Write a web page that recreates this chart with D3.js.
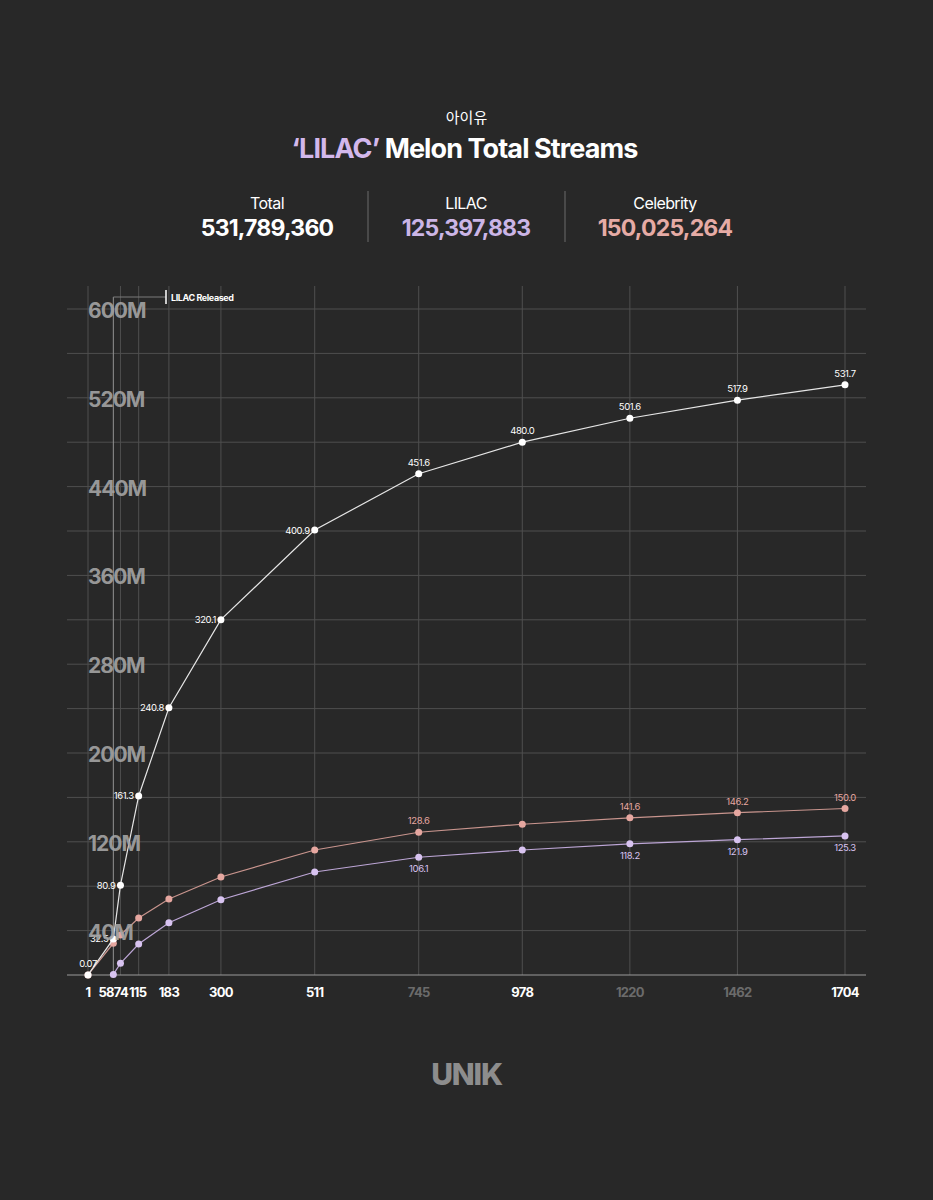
<!DOCTYPE html>
<html>
<head>
<meta charset="utf-8">
<script src="https://cdn.jsdelivr.net/npm/d3@7"></script>
<style>
  html, body { margin: 0; padding: 0; background: #282828; }
  svg { display: block; font-family: Inter, "Noto Sans CJK KR", sans-serif; }
</style>
</head>
<body>
<div id="chart"></div>
<script>
// days since Celebrity release (x axis)
const days = [1, 58, 74, 115, 183, 300, 511, 745, 978, 1220, 1462, 1704];
// streams in millions
const totalStreams = [0.07, 32.5, 80.9, 161.3, 240.8, 320.1, 400.9, 451.6, 480.0, 501.6, 517.9, 531.7];
const celebrityStreams = [0.07, 28.6, 36.0, 51.4, 68.5, 88.3, 112.6, 128.6, 135.8, 141.6, 146.2, 150.0];
const lilacStreams = [null, 0.5, 10.5, 27.9, 47.1, 67.8, 92.8, 106.1, 112.6, 118.2, 121.9, 125.3];
const dimTicks = [745, 1220, 1462];
const yTicks = [40, 80, 120, 160, 200, 240, 280, 320, 360, 400, 440, 480, 520, 560, 600];
const yLabels = [40, 120, 200, 280, 360, 440, 520, 600];
const releaseDay = 58;

const stats = [
  { name: "Total", value: "531,789,360", color: "#ffffff" },
  { name: "LILAC", value: "125,397,883", color: "#cbb5e6" },
  { name: "Celebrity", value: "150,025,264", color: "#e6aba5" }
];

const W = 933, H = 1200;
const svg = d3.select("#chart").append("svg").attr("width", W).attr("height", H);
svg.append("rect").attr("width", W).attr("height", H).attr("fill", "#282828");

// header
svg.append("text").attr("x", W / 2).attr("y", 123).attr("text-anchor", "middle")
  .attr("fill", "#fff").attr("font-size", 15).text("아이유");

let title = svg.append("text").attr("x", W / 2 - 2).attr("y", 158).attr("text-anchor", "middle")
  .attr("font-size", 27).attr("font-weight", 700).attr("letter-spacing", -0.9);
title.append("tspan").attr("fill", "#d3b8ec").text("‘LILAC’");
title.append("tspan").attr("fill", "#fff").text(" Melon Total Streams");

const statX = [267, 466, 665];
stats.forEach((s, i) => {
  svg.append("text").attr("x", statX[i]).attr("y", 209).attr("text-anchor", "middle")
    .attr("fill", "#fff").attr("font-size", 16).attr("letter-spacing", -0.6).text(s.name);
  svg.append("text").attr("x", statX[i]).attr("y", 236).attr("text-anchor", "middle")
    .attr("fill", s.color).attr("font-size", 23).attr("font-weight", 700)
    .attr("letter-spacing", -0.8).text(s.value);
});
[368, 565].forEach(x => {
  svg.append("line").attr("x1", x).attr("x2", x).attr("y1", 191).attr("y2", 242)
    .attr("stroke", "#6a6a6a").attr("stroke-width", 1);
});

// scales
const x = d3.scaleLinear().domain([1, 1704]).range([88, 845]);
const y = d3.scaleLinear().domain([0, 600]).range([975, 309]);
const left = 67, right = 866, gridTop = 286;

const grid = svg.append("g");
grid.selectAll(".hg").data(yTicks).enter().append("line")
  .attr("x1", left).attr("x2", right)
  .attr("y1", d => y(d)).attr("y2", d => y(d))
  .attr("stroke", "#4f4f4f").attr("stroke-width", 1);
grid.selectAll(".vg").data(days.filter(d => d !== releaseDay)).enter().append("line")
  .attr("x1", d => x(d)).attr("x2", d => x(d))
  .attr("y1", gridTop).attr("y2", 975)
  .attr("stroke", "#4f4f4f").attr("stroke-width", 1);

// release marker
grid.append("line").attr("x1", x(releaseDay)).attr("x2", x(releaseDay))
  .attr("y1", 297).attr("y2", 975).attr("stroke", "#939393").attr("stroke-width", 1);
grid.append("line").attr("x1", x(releaseDay)).attr("x2", 166)
  .attr("y1", 297).attr("y2", 297).attr("stroke", "#7a7a7a").attr("stroke-width", 1);
grid.append("line").attr("x1", 166).attr("x2", 166)
  .attr("y1", 290).attr("y2", 304).attr("stroke", "#fff").attr("stroke-width", 1.5);
grid.append("text").attr("x", 171).attr("y", 300.5).attr("fill", "#fff")
  .attr("font-size", 9).attr("font-weight", 700).attr("letter-spacing", -0.4)
  .text("LILAC Released");

// x axis
svg.append("line").attr("x1", left).attr("x2", right).attr("y1", 975).attr("y2", 975)
  .attr("stroke", "#9a9a9a").attr("stroke-width", 1.2);
svg.append("g").selectAll("text").data(days).enter().append("text")
  .attr("x", d => d === 58 ? x(d) + 0.5 : (d === 74 ? x(d) + 0.5 : (d === 115 ? x(d) - 1 : x(d))))
  .attr("y", 997)
  .attr("text-anchor", d => d === 58 ? "end" : "middle")
  .attr("font-size", 13).attr("font-weight", 700).attr("letter-spacing", -0.7)
  .attr("fill", d => dimTicks.includes(d) ? "#6b6b6b" : "#fff")
  .text(d => d);

// series
const series = [
  { vals: celebrityStreams, line: "#c9958e", dot: "#e6a7a0", labelIdx: [7, 9, 10, 11], pos: "above" },
  { vals: lilacStreams, line: "#bda6d6", dot: "#d8c3f0", labelIdx: [7, 9, 10, 11], pos: "below" },
  { vals: totalStreams, line: "#e6e6e6", dot: "#ffffff", labelIdx: d3.range(12), pos: "total" }
];
const lineGen = d3.line().defined(d => d.v != null).x(d => x(d.day)).y(d => y(d.v));

series.forEach(s => {
  const pts = days.map((d, i) => ({ day: d, v: s.vals[i], i: i })).filter(p => p.v != null);
  const g = svg.append("g");
  g.append("path").datum(pts).attr("d", lineGen).attr("fill", "none")
    .attr("stroke", s.line).attr("stroke-width", 1.2);
  g.selectAll("circle").data(pts).enter().append("circle")
    .attr("cx", p => x(p.day)).attr("cy", p => y(p.v)).attr("r", 3.5).attr("fill", s.dot);
  const lab = pts.filter(p => s.labelIdx.includes(p.i));
  g.selectAll("text").data(lab).enter().append("text")
    .attr("font-size", 9.5).attr("letter-spacing", -0.4)
    .attr("fill", s.pos === "total" ? "#fff" : s.dot)
    .each(function (p) {
      const t = d3.select(this);
      const px = x(p.day), py = y(p.v);
      if (s.pos === "above") {
        t.attr("x", px).attr("y", py - 8).attr("text-anchor", "middle");
      } else if (s.pos === "below") {
        t.attr("x", px).attr("y", py + 15).attr("text-anchor", "middle");
      } else if (p.i === 0) {
        t.attr("x", px + 9).attr("y", py - 8).attr("text-anchor", "end");
      } else if (p.i <= 6) {
        t.attr("x", px - 5).attr("y", py + 3.5).attr("text-anchor", "end");
      } else {
        t.attr("x", px).attr("y", py - 8).attr("text-anchor", "middle");
      }
    })
    .text(p => p.v.toFixed(p.v < 1 ? 2 : 1));
});

// y labels (drawn over the data, semi-transparent)
svg.append("g").selectAll("text").data(yLabels).enter().append("text")
  .attr("x", 88).attr("y", d => y(d) + 9).attr("font-size", 21).attr("font-weight", 700)
  .attr("letter-spacing", -1).attr("fill", "#a3a3a3").attr("fill-opacity", 0.92)
  .text(d => d + "M");

// footer
svg.append("text").attr("x", W / 2).attr("y", 1085).attr("text-anchor", "middle")
  .attr("font-size", 30).attr("font-weight", 800).attr("letter-spacing", -1.2)
  .attr("fill", "#8d8d8d").text("UNIK");
</script>
</body>
</html>
